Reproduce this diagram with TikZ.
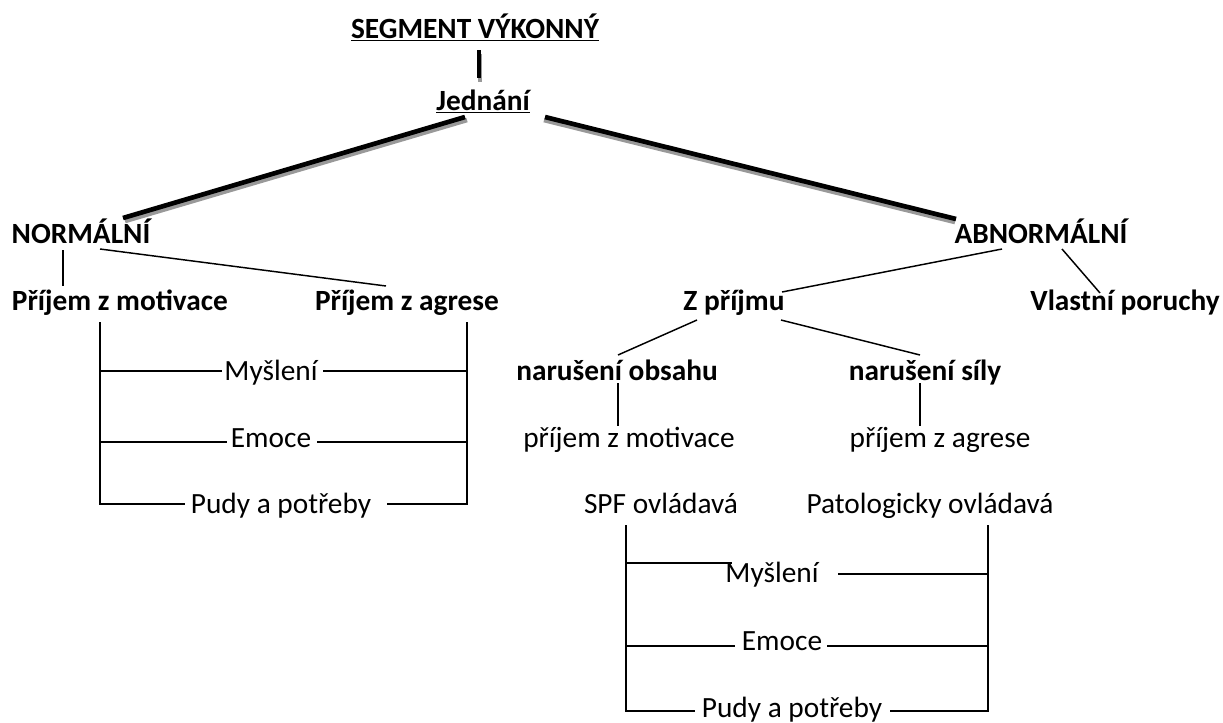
\documentclass[tikz,border=0pt]{standalone}
\usepackage{fontspec}
\setmainfont{Carlito}
\begin{document}
\begin{tikzpicture}[x=0.75pt,y=-0.75pt,
  lbl/.style={inner sep=0pt,anchor=base,font=\fontsize{22}{26}\selectfont},
  blbl/.style={lbl,font=\fontsize{22}{26}\selectfont\bfseries},
  thin/.style={line width=1.1pt,black},
  thick/.style={line width=3.5pt,black},
  shadow/.style={line width=3.5pt,black!40}]
\useasboundingbox (0,0) rectangle (1223,722);
% nodes
\node[blbl] (seg) at (475,38) {\underline{SEGMENT VÝKONNÝ}};
\node[blbl] (jed) at (483,110) {\underline{Jednání}};
\node[blbl] (norm) at (81,243) {NORMÁLNÍ};
\node[blbl] (abn) at (1041,243) {ABNORMÁLNÍ};
\node[blbl] (pm) at (120,310) {Příjem z motivace};
\node[blbl] (pa) at (407,310) {Příjem z agrese};
\node[blbl] (zp) at (734,310) {Z příjmu};
\node[blbl] (vp) at (1125,310) {Vlastní poruchy};
\node[lbl] (my1) at (271,380) {Myšlení};
\node[lbl] (em1) at (271,447) {Emoce};
\node[lbl] (pu1) at (281,513) {Pudy a potřeby};
\node[blbl] (no) at (617,380) {narušení obsahu};
\node[blbl] (ns) at (925,380) {narušení síly};
\node[lbl] (pzm) at (629,447) {příjem z motivace};
\node[lbl] (pza) at (940,447) {příjem z agrese};
\node[lbl] (spf) at (661,513) {SPF ovládavá};
\node[lbl] (pat) at (930,513) {Patologicky ovládavá};
\node[lbl] (my2) at (772,582) {Myšlení};
\node[lbl] (em2) at (782,650) {Emoce};
\node[lbl] (pu2) at (792,717) {Pudy a potřeby};
% connector end points
\coordinate (segB) at (479,50);
\coordinate (jedT) at (479,78);
\coordinate (jedL) at (465,117);
\coordinate (jedR) at (545,117);
\coordinate (normT) at (123,218);
\coordinate (abnT) at (956,219);
\coordinate (normB1) at (63,250);
\coordinate (pmT) at (63,286);
\coordinate (normB2) at (100,249);
\coordinate (paT) at (386,286);
\coordinate (abnB1) at (1002,249);
\coordinate (zpT) at (782,292);
\coordinate (abnB2) at (1062,249);
\coordinate (vpT) at (1100,293);
\coordinate (zpB1) at (697,320);
\coordinate (noT) at (618,355);
\coordinate (zpB2) at (781,320);
\coordinate (nsT) at (920,355);
\coordinate (noB) at (618,383);
\coordinate (pzmT) at (618,426);
\coordinate (nsB) at (920,383);
\coordinate (pzaT) at (920,426);
\coordinate (lb1) at (100,322);
\coordinate (lb2) at (100,504);
\coordinate (rb1) at (467,322);
\coordinate (rb2) at (467,504);
\coordinate (lc1) at (626,525);
\coordinate (lc2) at (626,711);
\coordinate (rc1) at (988,525);
\coordinate (rc2) at (988,711);
% thick connectors with shadow
\draw[shadow] ([shift={(1,4)}]segB) -- ([shift={(1,4)}]jedT);
\draw[shadow] ([shift={(2,3)}]jedL) -- ([shift={(2,3)}]normT);
\draw[shadow] ([shift={(-1,3)}]jedR) -- ([shift={(-1,3)}]abnT);
\draw[thick] (segB) -- (jedT);
\draw[thick] (jedL) -- (normT);
\draw[thick] (jedR) -- (abnT);
% thin connectors
\draw[thin] (normB1) -- (pmT);
\draw[thin] (normB2) -- (paT);
\draw[thin] (abnB1) -- (zpT);
\draw[thin] (abnB2) -- (vpT);
\draw[thin] (zpB1) -- (noT);
\draw[thin] (zpB2) -- (nsT);
\draw[thin] (noB) -- (pzmT);
\draw[thin] (nsB) -- (pzaT);
% left bracket
\draw[thin] (lb1) -- (lb2) -- (185,504);
\draw[thin] (387,504) -- (rb2) -- (rb1);
\draw[thin] (100,371) -- (222,371);
\draw[thin] (323,371) -- (467,371);
\draw[thin] (100,442) -- (227,442);
\draw[thin] (317,442) -- (467,442);
% bottom bracket
\draw[thin] (lc1) -- (lc2) -- (695,711);
\draw[thin] (890,711) -- (rc2) -- (rc1);
\draw[thin] (626,563) -- (732,563);
\draw[thin] (838,574) -- (988,574);
\draw[thin] (626,646) -- (735,646);
\draw[thin] (827,646) -- (988,646);
\end{tikzpicture}
\end{document}
